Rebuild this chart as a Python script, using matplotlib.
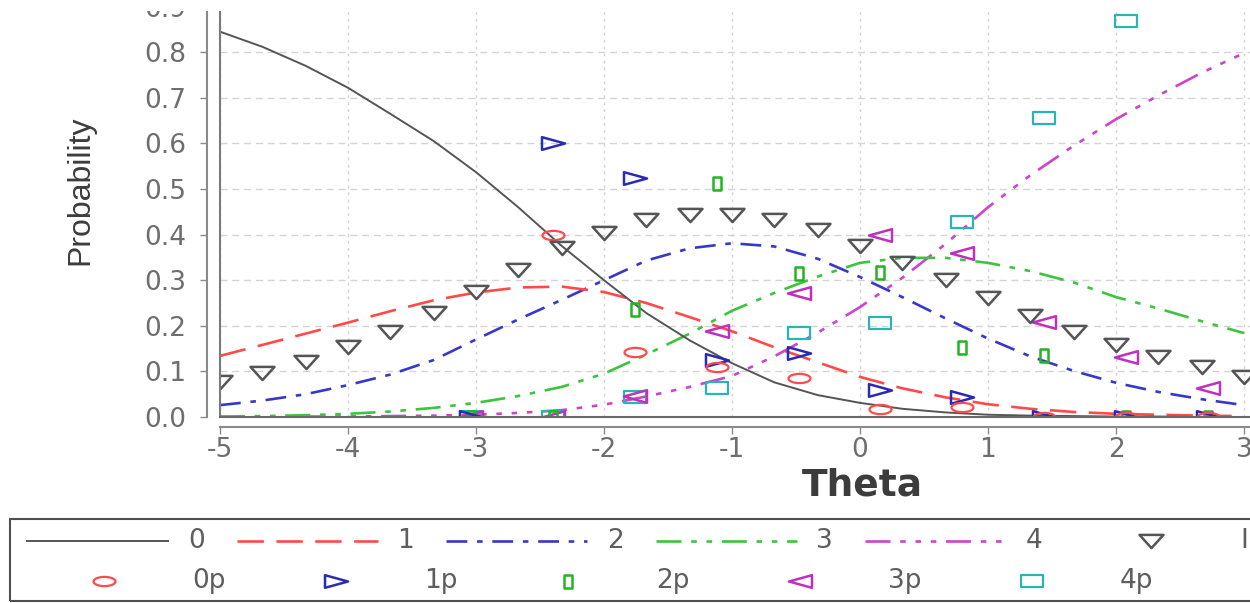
import matplotlib
matplotlib.use("Agg")
import matplotlib.pyplot as plt
from matplotlib.path import Path
from matplotlib.lines import Line2D
from matplotlib.patches import Rectangle

plt.rcParams["lines.scale_dashes"] = False
plt.rcParams["axes.unicode_minus"] = False
plt.rcParams["font.family"] = ["DejaVu Sans"]

# ---- category response curves on the theta grid ----
theta = [-5.0, -4.67, -4.33, -4.0, -3.67, -3.33, -3.0, -2.67, -2.33, -2.0,
         -1.67, -1.33, -1.0, -0.67, -0.33, 0.0, 0.33, 0.67, 1.0, 1.33,
         1.67, 2.0, 2.33, 2.67, 3.0]
cat0 = [0.845, 0.812, 0.770, 0.722, 0.665, 0.605, 0.537, 0.460, 0.375, 0.300,
        0.228, 0.168, 0.118, 0.076, 0.048, 0.031, 0.018, 0.010, 0.005, 0.003,
        0.002, 0.001, 0.001, 0.000, 0.000]
cat1 = [0.134, 0.158, 0.183, 0.207, 0.232, 0.256, 0.273, 0.284, 0.286, 0.274,
        0.250, 0.219, 0.188, 0.153, 0.120, 0.088, 0.063, 0.043, 0.028, 0.018,
        0.011, 0.007, 0.005, 0.003, 0.002]
cat2 = [0.026, 0.036, 0.050, 0.070, 0.093, 0.125, 0.170, 0.214, 0.257, 0.300,
        0.343, 0.370, 0.381, 0.374, 0.347, 0.307, 0.263, 0.216, 0.172, 0.133,
        0.101, 0.075, 0.055, 0.039, 0.026]
cat3 = [0.001, 0.002, 0.004, 0.007, 0.012, 0.020, 0.031, 0.046, 0.066, 0.095,
        0.137, 0.183, 0.233, 0.272, 0.308, 0.338, 0.349, 0.349, 0.338, 0.320,
        0.295, 0.263, 0.238, 0.210, 0.184]
cat4 = [0.000, 0.000, 0.001, 0.001, 0.002, 0.003, 0.005, 0.009, 0.015, 0.027,
        0.045, 0.066, 0.090, 0.133, 0.185, 0.241, 0.305, 0.380, 0.460, 0.530,
        0.595, 0.653, 0.705, 0.755, 0.798]
info = [0.077, 0.096, 0.121, 0.154, 0.186, 0.228, 0.274, 0.322, 0.371, 0.403,
        0.432, 0.443, 0.443, 0.432, 0.410, 0.375, 0.338, 0.300, 0.261, 0.221,
        0.186, 0.158, 0.132, 0.110, 0.088]

# ---- observed proportions per theta group ----
p_theta = [-3.04, -2.40, -1.76, -1.12, -0.48, 0.16, 0.80, 1.44, 2.08, 2.72]
obs0 = [1.000, 0.400, 0.143, 0.110, 0.086, 0.018, 0.022, 0.000, 0.000, 0.000]
obs1 = [0.000, 0.600, 0.524, 0.125, 0.140, 0.059, 0.044, 0.000, 0.000, 0.000]
obs2 = [0.000, 0.000, 0.237, 0.513, 0.316, 0.318, 0.154, 0.136, 0.000, 0.000]
obs3 = [0.000, 0.000, 0.046, 0.189, 0.272, 0.399, 0.360, 0.208, 0.132, 0.064]
obs4 = [0.000, 0.000, 0.044, 0.064, 0.184, 0.206, 0.428, 0.656, 0.868, 0.936]

x_ticks = [-5, -4, -3, -2, -1, 0, 1, 2, 3]
x_tick_labels = ["-5", "-4", "-3", "-2", "-1", "0", "1", "2", "3"]
y_ticks = [0.0, 0.1, 0.2, 0.3, 0.4, 0.5, 0.6, 0.7, 0.8, 0.9]
y_tick_labels = ["0.0", "0.1", "0.2", "0.3", "0.4", "0.5", "0.6", "0.7", "0.8", "0.9"]

W, H = 1250, 603
PX = 0.72  # points per pixel at 100 dpi


def fx(px):
    return px / W


def fy(py):
    return (H - py) / H


def closed(verts):
    codes = [Path.MOVETO] + [Path.LINETO] * (len(verts) - 2) + [Path.CLOSEPOLY]
    return Path(verts, codes)


tri_down = closed([(-1, 0.55), (1, 0.55), (0, -0.55), (-1, 0.55)])
tri_right = closed([(-1, 0.55), (1, 0.0), (-1, -0.55), (-1, 0.55)])
tri_left = closed([(1, 0.55), (-1, 0.0), (1, -0.55), (1, 0.55)])
rect_tall = closed([(-0.6, -1), (0.6, -1), (0.6, 1), (-0.6, 1), (-0.6, -1)])
rect_wide = closed([(-1, -0.58), (1, -0.58), (1, 0.58), (-1, 0.58), (-1, -0.58)])
_c = Path.unit_circle()
ellipse = Path(_c.vertices * [1.0, 0.42], _c.codes)

C_BLACK = "#555555"
C_RED = "#ff4a4a"
C_BLUE = "#3838c8"
C_GREEN = "#3cc43c"
C_MAG = "#cc44cc"
C_CYAN = "#2ab4b4"
C_INFO = "#555555"

line_styles = [
    dict(color=C_BLACK, lw=1.4),
    dict(color=C_RED, lw=1.9, dashes=(19, 9)),
    dict(color=C_BLUE, lw=1.9, dashes=(15, 7, 4, 7)),
    dict(color=C_GREEN, lw=1.9, dashes=(18, 7, 4, 7, 4, 7)),
    dict(color=C_MAG, lw=1.9, dashes=(18, 7, 4, 7, 4, 7, 4, 7)),
]
info_style = dict(marker=tri_down, ms=24 * PX, mew=1.8, mec=C_INFO, mfc="none", ls="none")
obs_styles = [
    dict(marker=ellipse, ms=22 * PX, mew=1.6, mec=C_RED, mfc="none", ls="none"),
    dict(marker=tri_right, ms=23 * PX, mew=1.8, mec="#2a2ab4", mfc="none", ls="none"),
    dict(marker=rect_tall, ms=13 * PX, mew=1.8, mec="#22b422", mfc="none", ls="none"),
    dict(marker=tri_left, ms=23 * PX, mew=1.8, mec="#c030c0", mfc="none", ls="none"),
    dict(marker=rect_wide, ms=22 * PX, mew=1.6, mec=C_CYAN, mfc="none", ls="none"),
]

fig = plt.figure(figsize=(W / 100, H / 100), dpi=100)
fig.patch.set_facecolor("white")
ax = fig.add_axes([fx(220), fy(417), fx(1250) - fx(220), fy(0) - fy(417)])
ax.set_xlim(-5, -5 + 1030 / 128)
ax.set_ylim(0, 417 / 456)

# grid
ax.set_axisbelow(True)
ax.xaxis.grid(True, color="#d4d4d4", lw=1.0, ls=(0, (2, 3)))
ax.yaxis.grid(True, color="#d4d4d4", lw=1.0, ls=(0, (5, 3.5)))

# curves: later categories underneath, category 0 on top
curves = [cat0, cat1, cat2, cat3, cat4]
for k, (vals, st) in enumerate(zip(curves, line_styles)):
    ax.plot(theta, vals, zorder=3.4 - 0.1 * k, **st)

# observed proportions above the curves, information markers on top
obs = [obs0, obs1, obs2, obs3, obs4]
for k, (vals, st) in enumerate(zip(obs, obs_styles)):
    ax.plot(p_theta, vals, zorder=4.5 - 0.1 * k, **st)
ax.plot(theta, info, zorder=4.8, **info_style)

# plot-area border (left and bottom)
ax.plot([0, 0], [0, 1], transform=ax.transAxes, color="#7a7a7a", lw=1.5,
        clip_on=False, zorder=6)
ax.plot([0, 1], [0, 0], transform=ax.transAxes, color="#6a6a6a", lw=1.5,
        clip_on=False, zorder=6)

# offset axes
for side in ("top", "right"):
    ax.spines[side].set_visible(False)
ax.spines["left"].set_position(("outward", 13 * PX))
ax.spines["bottom"].set_position(("outward", 10 * PX))
for side in ("left", "bottom"):
    ax.spines[side].set_color("#8a8a8a")
    ax.spines[side].set_linewidth(1.5)

ax.set_xticks(x_ticks)
ax.set_xticklabels(x_tick_labels)
ax.set_yticks(y_ticks)
ax.set_yticklabels(y_tick_labels)
ax.tick_params(axis="both", direction="out", length=5, width=1.0,
               color="#8a8a8a", labelcolor="#6e6e6e", labelsize=19)
ax.tick_params(axis="y", pad=10)
ax.tick_params(axis="x", pad=2.5)

fig.text(fx(862), fy(495), "Theta", ha="center", va="baseline",
         fontsize=27, fontweight="bold", color="#3c3c3c")
fig.text(fx(80), fy(190), "Probability", ha="center", va="center",
         rotation=90, fontsize=23, family=["Liberation Sans"], color="#3c3c3c")

# blank margin strip along the top edge
fig.add_artist(Rectangle((0, fy(11)), 1, 11 / H, transform=fig.transFigure,
                         facecolor="white", edgecolor="none", zorder=50))

# ---- legend ----
fig.add_artist(Rectangle((fx(10), fy(601)), 1.2, fy(519) - fy(601),
                         transform=fig.transFigure, fill=False,
                         edgecolor="#505050", lw=1.5))
row1 = 541
row2 = 581
line_labels = ["0", "1", "2", "3", "4"]
for i, (lab, st) in enumerate(zip(line_labels, line_styles)):
    x0 = 27 + 209.5 * i
    fig.add_artist(Line2D([fx(x0), fx(x0 + 141)], [fy(row1), fy(row1)],
                          transform=fig.transFigure, **st))
    fig.text(fx(x0 + 70 + 91), fy(row1), lab, ha="left", va="center",
             fontsize=19, color="#5e5e5e")
fig.add_artist(Line2D([fx(1151)], [fy(row1)], transform=fig.transFigure, **info_style))
fig.text(fx(1240), fy(row1), "Information", ha="left", va="center",
         fontsize=19, color="#5e5e5e")

obs_labels = ["0p", "1p", "2p", "3p", "4p"]
for i, (lab, st) in enumerate(zip(obs_labels, obs_styles)):
    xm = 104 + 232 * i
    fig.add_artist(Line2D([fx(xm)], [fy(row2)], transform=fig.transFigure, **st))
    fig.text(fx(xm + 88), fy(row2), lab, ha="left", va="center",
             fontsize=19, color="#5e5e5e")

fig.savefig("out.png", dpi=100, facecolor="white")
